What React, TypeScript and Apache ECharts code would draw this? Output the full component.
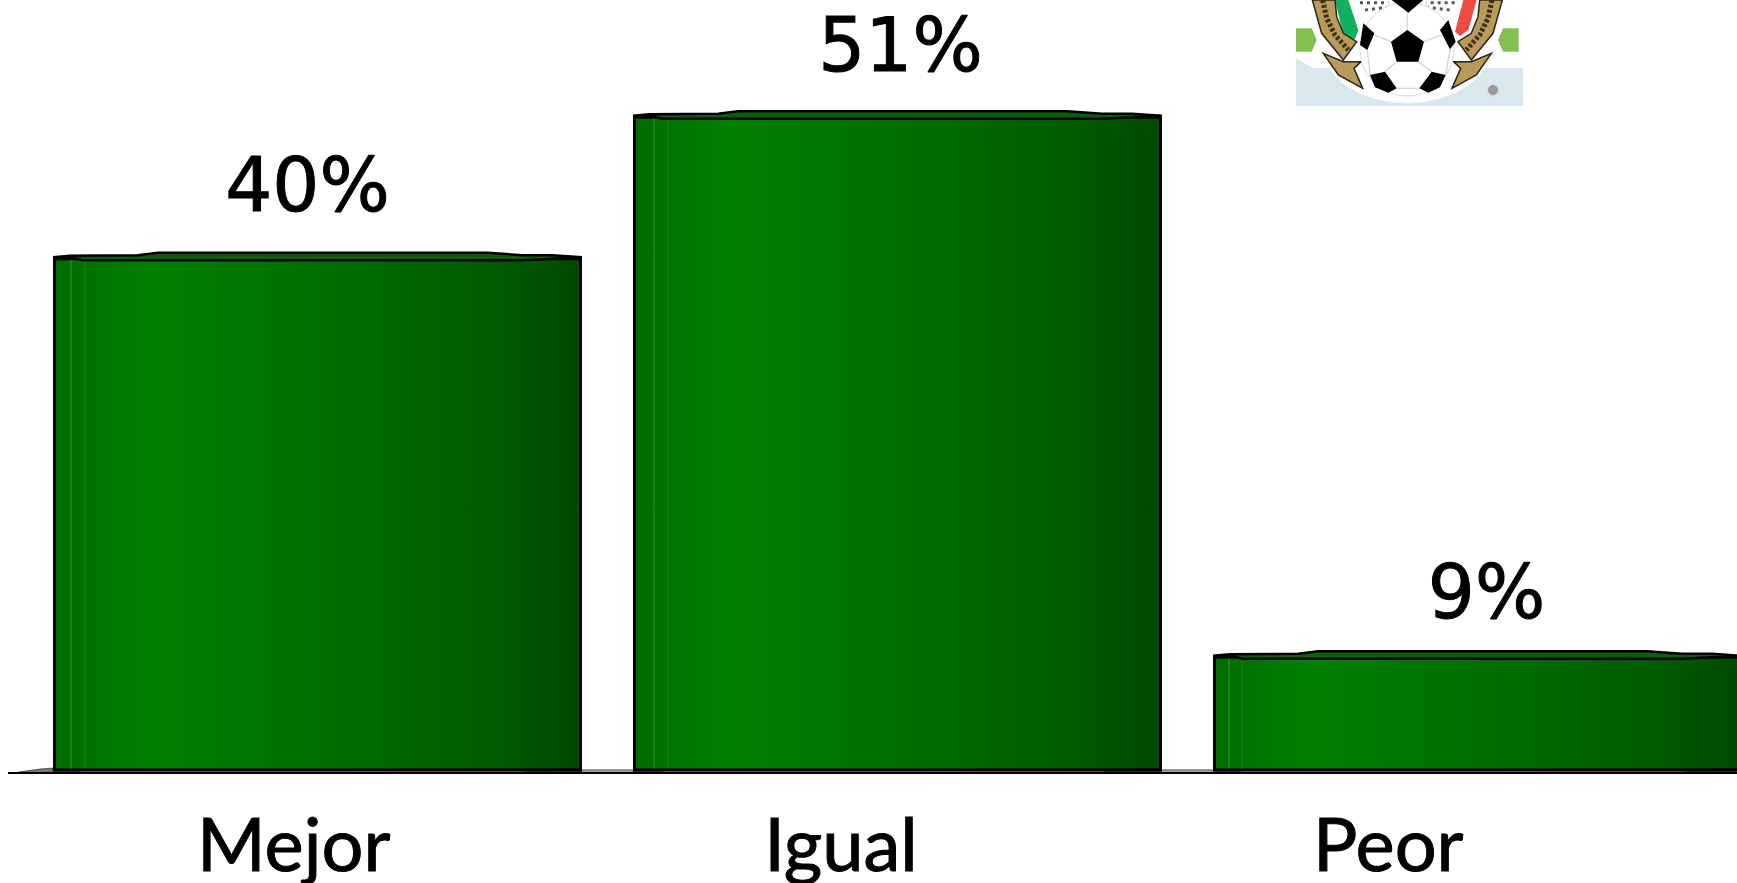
import React, { useEffect, useRef } from "react";
import * as echarts from "echarts";

const categories = ["Mejor", "Igual", "Peor"];
const values = [40, 51, 9];
const valueLabels = ["40%", "51%", "9%"];
const valueLabelShiftX = [-10, 3, 9];
const valueLabelShiftY = [-5, -4, 3];
const stripA = [18, 21, 16];
const stripB = [32, 35, 29];

const gradient = new echarts.graphic.LinearGradient(0, 0, 1, 0, [
  { offset: 0, color: "#006c00" },
  { offset: 0.18, color: "#008000" },
  { offset: 0.55, color: "#006c00" },
  { offset: 0.85, color: "#005a00" },
  { offset: 1, color: "#004800" },
]);

// Logo polygons, in units of 1/3 px from (1280, 0)
const z = (pts: number[][], mirror = false) =>
  pts.map(([x, y]) => [1280 + (mirror ? 764 - x : x) / 3, y / 3]);

const blackPatches = [
  [[382, 90], [432, 125], [415, 185], [350, 185], [333, 125]],
  [[270, 225], [315, 215], [350, 265], [325, 278], [285, 262]],
  [[497, 225], [455, 215], [418, 265], [445, 278], [480, 262]],
  [[250, 70], [283, 100], [262, 150], [240, 135]],
  [[480, 90], [505, 60], [527, 125], [510, 148]],
  [[335, 0], [430, 0], [385, 38]],
];
const seams = [
  [[382, 38], [382, 90]],
  [[432, 125], [483, 105]],
  [[333, 125], [283, 105]],
  [[350, 185], [315, 215]],
  [[415, 185], [455, 215]],
  [[262, 150], [270, 225]],
  [[510, 148], [497, 225]],
  [[350, 265], [418, 265]],
];
const ribbon = [[97, 0], [165, 0], [170, 50], [190, 100], [230, 125], [190, 180], [125, 100]];
const ribbonText = [[128, 0], [140, 55], [165, 105], [205, 150]];
const tail = [[130, 160], [190, 185], [243, 185], [222, 205], [248, 265], [175, 225]];
const crestSpecks = [[[240, 8], [325, 8]], [[255, 30], [320, 22]]];

function logo() {
  const out: any[] = [
    { type: "rect", shape: { x: 1296, y: 68, width: 227, height: 38 }, style: { fill: "#d9e8ec" } },
    { type: "polygon", shape: { points: z([[48, 175], [100, 205], [48, 205]]) }, style: { fill: "#d9e8ec" } },
    { type: "ellipse", shape: { cx: 1407, cy: 50, rx: 82, ry: 53 }, style: { fill: "#fff" } },
    { type: "polygon", shape: { points: z([[48, 85], [95, 85], [110, 120], [95, 155], [48, 155]]) }, style: { fill: "#84bf54" } },
    { type: "polygon", shape: { points: z([[48, 85], [95, 85], [110, 120], [95, 155], [48, 155]], true) }, style: { fill: "#84bf54" } },
    { type: "polygon", shape: { points: z([[165, 0], [205, 0], [235, 90], [225, 118], [190, 105]]) }, style: { fill: "#12b060" } },
    { type: "polygon", shape: { points: z([[590, 0], [550, 0], [525, 95], [540, 108], [565, 90]]) }, style: { fill: "#ee4c40" } },
  ];
  [false, true].forEach((m) => {
    out.push({ type: "polygon", shape: { points: z(ribbon, m) }, style: { fill: "#b89a5a", stroke: "#2a2418", lineWidth: 1.5 } });
    out.push({ type: "polyline", shape: { points: z(ribbonText, m) }, style: { stroke: "#3a2e1a", lineWidth: 5, lineDash: [3, 2], fill: "none" } });
    out.push({ type: "polygon", shape: { points: z(tail, m) }, style: { fill: "#b89a5a", stroke: "#2a2418", lineWidth: 1.5 } });
    crestSpecks.forEach((s) =>
      out.push({ type: "polyline", shape: { points: z(s, m) }, style: { stroke: "#555", lineWidth: 3, lineDash: [3, 4], fill: "none" } })
    );
  });
  out.push({ type: "circle", shape: { cx: 1407, cy: 49, r: 47 }, style: { fill: "#fff", stroke: "#d8d8d8", lineWidth: 1 } });
  seams.forEach((s) => out.push({ type: "polyline", shape: { points: z(s) }, style: { stroke: "#d8d8d8", lineWidth: 1.5, fill: "none" } }));
  blackPatches.forEach((p) => out.push({ type: "polygon", shape: { points: z(p) }, style: { fill: "#000" } }));
  out.push({ type: "circle", shape: { cx: 1493, cy: 90, r: 6 }, style: { fill: "#999", stroke: "#ddd", lineWidth: 2 } });
  return out;
}

const floor = [
  { type: "polygon", shape: { points: [[8, 773.5], [40, 769], [53, 768], [53, 773.5]] }, style: { fill: "#777", stroke: "#000", lineWidth: 0.5 } },
  { type: "line", shape: { x1: 53, y1: 770.5, x2: 1737, y2: 770.5 }, style: { stroke: "#808080", lineWidth: 2.5 } },
  { type: "line", shape: { x1: 8, y1: 773, x2: 1737, y2: 773 }, style: { stroke: "#000", lineWidth: 2 } },
];

export default function App() {
  const ref = useRef<HTMLDivElement>(null);
  useEffect(() => {
    const chart = echarts.init(ref.current!, undefined, { renderer: "svg" });
    chart.setOption({
      animation: false,
      backgroundColor: "#ffffff",
      grid: [
        { left: 27.5, width: 1740, top: 0, bottom: 111.5, outerBoundsMode: "none" },
        { left: 20, width: 1642, top: 0, bottom: 111.5, outerBoundsMode: "none" },
      ],
      xAxis: [
        { type: "category", gridIndex: 0, data: categories, axisLine: { show: false }, axisTick: { show: false }, axisLabel: { show: false } },
        {
          type: "category", gridIndex: 1, data: categories,
          axisLine: { show: false }, axisTick: { show: false },
          axisLabel: { color: "#000", fontFamily: "Lato", fontSize: 74, margin: 34, textBorderColor: "#000", textBorderWidth: 1 },
        },
      ],
      yAxis: [
        { type: "value", gridIndex: 0, min: 0, max: 60, show: false },
        { type: "value", gridIndex: 1, min: 0, max: 60, show: false },
      ],
      graphic: [...floor.map((e) => ({ ...e, z: 1 })), ...logo().map((e) => ({ ...e, z: 5 }))],
      series: [
        {
          type: "bar",
          xAxisIndex: 0,
          yAxisIndex: 0,
          barWidth: 529,
          z: 2,
          data: values.map((v, i) => ({
            value: v,
            label: {
              show: true,
              position: "top",
              distance: 30,
              offset: [valueLabelShiftX[i], valueLabelShiftY[i]],
              formatter: valueLabels[i],
              color: "#000",
              fontFamily: "DejaVu Sans",
              fontSize: 74,
              textBorderColor: "#000",
              textBorderWidth: 1,
            },
          })),
          itemStyle: { color: gradient, borderColor: "#000", borderWidth: 3 },
        },
        {
          type: "custom",
          xAxisIndex: 0,
          yAxisIndex: 0,
          z: 3,
          clip: false,
          data: values.map((v, i) => [i, v]),
          renderItem: (params: any, api: any) => {
            const i = api.value(0);
            const c = api.coord([i, api.value(1)]);
            const b = api.coord([i, 0])[1];
            const l = c[0] - 264.5;
            const r = c[0] + 264.5;
            const t = c[1];
            return {
              type: "group",
              children: [
                { type: "polygon", shape: { points: [[l, t], [l + 17, t - 1.5], [l + 85, t - 2], [l + 105, t - 4.5], [r - 95, t - 4.5], [r - 60, t - 2], [r - 30, t - 2], [r, t], [r - 60, t + 3], [l + 30, t + 3], [l + 17, t]] }, style: { fill: "#0b5f0b", stroke: "#000", lineWidth: 2.5 } },
                { type: "line", shape: { x1: l + stripA[i], y1: t + 2, x2: l + stripA[i], y2: b - 2 }, style: { stroke: "rgba(255,255,255,0.22)", lineWidth: 1 } },
                { type: "line", shape: { x1: l + stripB[i], y1: t + 4, x2: l + stripB[i], y2: b - 2 }, style: { stroke: "rgba(255,255,255,0.1)", lineWidth: 1 } },
                { type: "polygon", shape: { points: [[l, b - 2], [l + 17, b - 2], [l + 30, b], [l, b]] }, style: { fill: "#000" } },
                { type: "polygon", shape: { points: [[r - 60, b], [r - 30, b - 3], [r, b - 3], [r, b]] }, style: { fill: "#000" } },
              ],
            };
          },
        },
      ],
    });
    return () => chart.dispose();
  }, []);
  return <div ref={ref} style={{ position: "fixed", left: 0, top: 0, width: 1737, height: 883 }} />;
}
